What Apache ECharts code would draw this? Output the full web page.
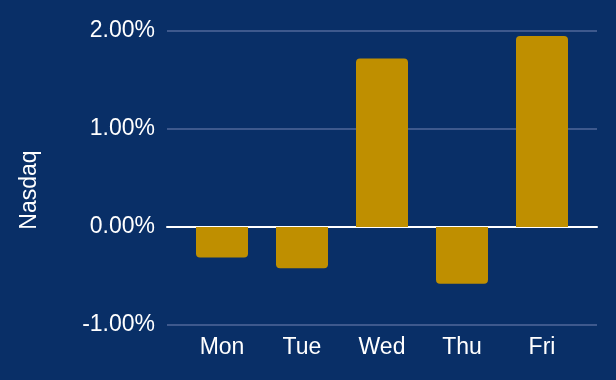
<!DOCTYPE html>
<html>
<head>
<meta charset="utf-8">
<script src="https://cdn.jsdelivr.net/npm/echarts@6/dist/echarts.min.js"></script>
<style>
html,body{margin:0;padding:0;background:#092f67;}
#c{width:616px;height:380px;}
</style>
</head>
<body>
<div id="c"></div>
<script>
const categories = ['Mon', 'Tue', 'Wed', 'Thu', 'Fri'];
const nasdaqValues = [-0.31, -0.42, 1.72, -0.58, 1.95];
const yTicks = [-1, 0, 1, 2];
const yAxisName = 'Nasdaq';

const FONT = 'Liberation Sans, Arial, sans-serif';
const chart = echarts.init(document.getElementById('c'), null, {renderer: 'canvas'});
const yMin = yTicks[0], yMax = yTicks[yTicks.length - 1];

chart.setOption({
  backgroundColor: '#092f67',
  animation: false,
  textStyle: {fontFamily: FONT},
  grid: [
    {left: 182, right: 34, top: 31, bottom: 55},
    {left: 167, right: 19, top: 31, bottom: 55}
  ],
  graphic: [{
    type: 'text',
    left: 18, top: 'middle',
    rotation: Math.PI / 2,
    style: {text: yAxisName, fill: '#ffffff', font: '23px ' + FONT}
  }],
  xAxis: [
    {
      type: 'category', gridIndex: 0, data: categories,
      axisLine: {show: false}, axisTick: {show: false},
      axisLabel: {color: '#ffffff', fontSize: 23, margin: 11, fontFamily: FONT}
    },
    {
      type: 'category', gridIndex: 1, data: categories,
      axisLine: {show: true, onZero: true, lineStyle: {color: '#ffffff', width: 2}},
      axisTick: {show: false}, axisLabel: {show: false}
    }
  ],
  yAxis: [
    {
      type: 'value', gridIndex: 0, min: yMin, max: yMax, interval: 1,
      axisLine: {show: false}, axisTick: {show: false},
      axisLabel: {show: false}, splitLine: {show: false}
    },
    {
      type: 'value', gridIndex: 1, min: yMin, max: yMax, interval: 1,
      axisLine: {show: false}, axisTick: {show: false},
      axisLabel: {color: '#ffffff', fontSize: 23, margin: 12, fontFamily: FONT,
        formatter: v => v.toFixed(2) + '%'},
      splitLine: {show: true, lineStyle: {color: '#50699a', width: 1.5}}
    }
  ],
  series: [{
    type: 'bar', xAxisIndex: 0, yAxisIndex: 0, barWidth: 52, z: 5,
    data: nasdaqValues.map(v => ({
      value: v,
      itemStyle: {color: '#bf8f00', borderRadius: v >= 0 ? [4, 4, 0, 0] : [0, 0, 4, 4]}
    }))
  }]
});
</script>
</body>
</html>
